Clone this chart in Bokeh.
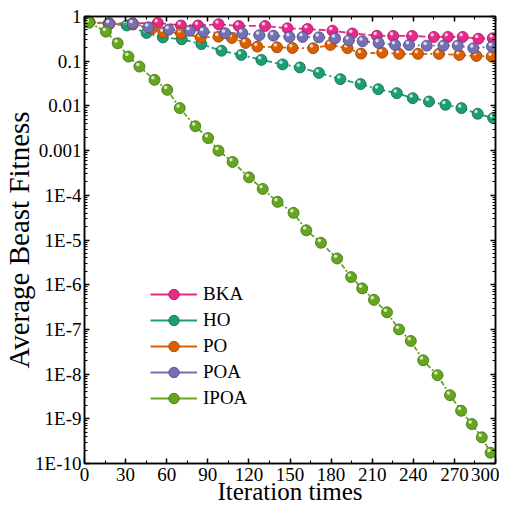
import math
from bokeh.plotting import figure
from bokeh.models import (LinearAxis, LogAxis, FixedTicker, CustomJSTickFormatter,
                          Legend, LegendItem, Range1d, ColumnDataSource)
from bokeh.embed import file_html
from bokeh.resources import INLINE

# ---- data ----
bka_x = [3.4, 18.1, 35.2, 53.5, 70.4, 82.9, 97.9, 112.6, 131.8, 148.2, 162.8, 181.0,
         195.5, 213.4, 225.3, 239.1, 255.0, 265.3, 276.1, 287.5, 298.0]
bka_y = [0.754, 0.705, 0.705, 0.716, 0.630, 0.630, 0.670, 0.614, 0.614, 0.545, 0.526,
         0.482, 0.418, 0.371, 0.367, 0.367, 0.349, 0.349, 0.349, 0.318, 0.326]

ho_x = [3.4, 17.6, 30.8, 45.3, 57.2, 71.0, 85.3, 100.0, 114.4, 129.1, 144.6, 157.2,
        171.1, 186.8, 201.5, 214.4, 228.0, 239.6, 251.4, 263.5, 275.1, 287.0, 298.3]
ho_y = [0.754, 0.698, 0.630, 0.428, 0.340, 0.310, 0.241, 0.1715, 0.138, 0.107, 0.0849,
        0.0727, 0.0548, 0.0397, 0.0308, 0.0237, 0.0193, 0.0149, 0.01253, 0.01059,
        0.00893, 0.00667, 0.00534]

po_x = [3.4, 18.1, 35.2, 49.1, 57.6, 70.4, 84.8, 97.8, 107.6, 117.5, 126.2, 140.5,
        151.8, 166.9, 179.5, 192.0, 201.9, 217.3, 229.6, 243.4, 258.7, 273.6, 286.1, 297.2]
po_y = [0.754, 0.680, 0.663, 0.534, 0.440, 0.422, 0.340, 0.354, 0.331, 0.256, 0.212,
        0.205, 0.198, 0.195, 0.231, 0.195, 0.148, 0.155, 0.146, 0.146, 0.146, 0.138,
        0.131, 0.127]

poa_x = [3.4, 18.1, 35.2, 46.6, 61.5, 76.8, 86.8, 102.7, 115.2, 127.6, 137.9, 149.6,
         159.2, 171.1, 182.9, 192.9, 203.0, 214.7, 226.7, 236.9, 249.8, 262.0, 272.4,
         283.8, 297.4]
poa_y = [0.754, 0.691, 0.691, 0.574, 0.507, 0.479, 0.458, 0.422, 0.422, 0.381, 0.373,
         0.349, 0.349, 0.343, 0.326, 0.294, 0.280, 0.256, 0.231, 0.231, 0.223, 0.223,
         0.223, 0.195, 0.212]

ipoa_x = [3.4, 15.6, 24.2, 32.1, 40.1, 51.1, 60.4, 69.5, 80.9, 90.2, 97.8, 108.1,
          120.1, 130.1, 140.9, 152.6, 161.9, 172.6, 184.4, 194.6, 202.7, 211.3, 220.8,
          229.6, 238.2, 247.2, 257.7, 266.8, 274.9, 282.7, 290.0, 296.4]
ipoa_y = [0.727, 0.458, 0.252, 0.127, 0.0757, 0.0383, 0.0229, 0.00893, 0.00351,
          0.00191, 9.95e-4, 5.57e-4, 2.52e-4, 1.39e-4, 7.13e-5, 4.05e-5, 1.65e-5,
          8.66e-6, 3.86e-6, 1.48e-6, 8.27e-7, 4.58e-7, 2.41e-7, 1.0e-7, 5.51e-8,
          2.04e-8, 9.44e-9, 3.38e-9, 1.51e-9, 7.62e-10, 3.85e-10, 1.74e-10]

series_names = ["BKA", "HO", "PO", "POA", "IPOA"]
x_ticks = [0, 30, 60, 90, 120, 150, 180, 210, 240, 270, 300]
y_ticks = [1, 0.1, 0.01, 0.001, 1e-4, 1e-5, 1e-6, 1e-7, 1e-8, 1e-9, 1e-10]
y_tick_labels = ["1", "0.1", "0.01", "0.001", "1E-4", "1E-5", "1E-6", "1E-7",
                 "1E-8", "1E-9", "1E-10"]

# ---- styles ----
colors = ["#E7298A", "#1B9E77", "#D95F02", "#7570B3", "#66A61E"]
edges = ["#A3125F", "#0C6B4F", "#983F00", "#4C4887", "#3F700C"]
dashes = ["7 3", "6 3 2 3", "5 3 2 3", "2 3", "5 2 2 2"]
FONT = "Liberation Serif"

p = figure(width=499, height=507, y_axis_type="log",
           x_range=Range1d(0, 300), y_range=Range1d(1e-10, 1),
           output_backend="svg", toolbar_location=None,
           min_border_left=79, min_border_right=4, min_border_top=16,
           min_border_bottom=42)
p.grid.visible = False
p.outline_line_color = "black"
p.outline_line_width = 1.5
p.background_fill_color = "white"
p.border_fill_color = "white"

y_minor = [k * 10.0 ** e for e in range(-10, 0) for k in range(2, 10)]
x_minor = [15 + 30 * i for i in range(10)]

ylab_fmt = CustomJSTickFormatter(args=dict(labels=y_tick_labels),
                                 code="const i = Math.round(-Math.log10(tick)); return labels[i];")

def style_axis(ax, show_labels=True):
    ax.axis_line_color = "black"
    ax.axis_line_width = 1.5
    ax.major_tick_line_color = "black"
    ax.minor_tick_line_color = "black"
    ax.major_tick_line_width = 1.5
    ax.minor_tick_line_width = 1
    ax.major_tick_in = 5
    ax.major_tick_out = 0
    ax.minor_tick_in = 3
    ax.minor_tick_out = 0
    ax.major_label_text_font = FONT
    ax.major_label_text_color = "black"
    ax.axis_label_text_font = FONT
    ax.axis_label_text_font_style = "normal"
    ax.axis_label_text_color = "black"
    if show_labels:
        ax.major_label_text_font_size = "19px"
        ax.major_label_standoff = 2
    else:
        ax.formatter = CustomJSTickFormatter(code="return '';")
        ax.major_label_text_font_size = "1px"
        ax.major_label_standoff = 0
        ax.axis_label_standoff = 0

xt = FixedTicker(ticks=x_ticks, minor_ticks=x_minor)
yt = FixedTicker(ticks=y_ticks, minor_ticks=y_minor)

xa = p.xaxis[0]
xa.ticker = xt
style_axis(xa)
xa.axis_label = "Iteration times"
xa.axis_label_text_font_size = "25px"
xa.axis_label_text_line_height = 0.7
xa.axis_label_standoff = -6
xa.major_label_standoff = 4

ya = p.yaxis[0]
ya.ticker = yt
ya.formatter = ylab_fmt
style_axis(ya)
ya.major_label_standoff = 3
ya.axis_label = "Average Beast Fitness"
ya.axis_label_text_font_size = "29px"
ya.axis_label_standoff = -3

top_ax = LinearAxis(ticker=xt)
style_axis(top_ax, show_labels=False)
p.add_layout(top_ax, "above")
right_ax = LogAxis(ticker=yt)
style_axis(right_ax, show_labels=False)
p.add_layout(right_ax, "right")

xs = [bka_x, ho_x, po_x, poa_x, ipoa_x]
ys = [bka_y, ho_y, po_y, poa_y, ipoa_y]

# highlight offset (a few px up-left, converted through the axes' scales)
dx = -1.2
fy = 10 ** (2.2 / 44.8)

items = []
for name, x, y, c, e, d in zip(series_names, xs, ys, colors, edges, dashes):
    src = ColumnDataSource(dict(x=x, y=y))
    p.line("x", "y", source=src, line_color=c, line_width=1.8, line_dash=d)
    sc = p.scatter("x", "y", source=src, size=11, fill_color=c, line_color=e,
                   line_width=0.8)
    hsrc = ColumnDataSource(dict(x=[v + dx for v in x], y=[v * fy for v in y]))
    p.scatter("x", "y", source=hsrc, size=3.5, fill_color="white", fill_alpha=0.75,
              line_color=None)
    # legend-only solid line (no drawable points)
    lsrc = ColumnDataSource(dict(x=[float("nan")], y=[float("nan")]))
    solid = p.line("x", "y", source=lsrc, line_color=c, line_width=1.8)
    items.append(LegendItem(label=name, renderers=[solid, sc]))

legend = Legend(items=items, location=(66, 52))
legend.background_fill_alpha = 0
legend.border_line_color = None
legend.padding = 0
legend.margin = 0
legend.spacing = 0
legend.glyph_width = 47
legend.glyph_height = 26
legend.label_height = 26
legend.label_standoff = 6
legend.label_text_font = FONT
legend.label_text_font_size = "19px"
legend.label_text_color = "black"
p.add_layout(legend, "center")

open("out.html", "w").write(file_html(p, INLINE))
